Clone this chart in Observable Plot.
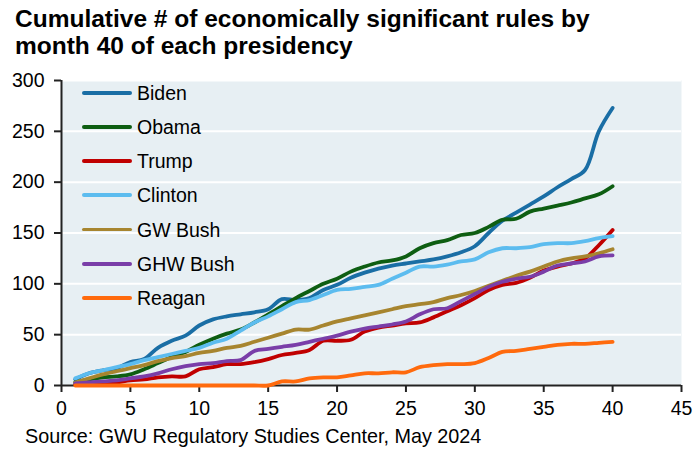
<!DOCTYPE html>
<html>
<head>
<meta charset="utf-8">
<script src="https://cdn.jsdelivr.net/npm/d3@7"></script>
<script src="https://cdn.jsdelivr.net/npm/@observablehq/plot@0.6"></script>
<style>
  html, body { margin: 0; padding: 0; background: #fff; }
  #chart { position: relative; width: 694px; height: 450px; font-family: Arial, "Liberation Sans", sans-serif; color: #000; overflow: hidden; }
  #title { position: absolute; left: 15px; top: 5px; font-size: 24.5px; font-weight: bold; line-height: 27px; white-space: nowrap; }
  #plot { position: absolute; left: 0; top: 70px; }
  #caption { position: absolute; left: 25px; top: 425px; font-size: 19.8px; line-height: 22px; white-space: nowrap; }
  #legend { position: absolute; left: 82px; top: 80px; }
  .item { position: absolute; left: 0; height: 24px; width: 200px; }
  .swatch { position: absolute; left: 0; width: 50px; height: 3.8px; border-radius: 2px; }
  .label { position: absolute; left: 55px; font-size: 19.5px; line-height: 24px; white-space: nowrap; }
</style>
</head>
<body>
<div id="chart">
  <div id="title">Cumulative # of economically significant rules by<br>month 40 of each presidency</div>
  <div id="plot"></div>
  <div id="legend"></div>
  <div id="caption">Source: GWU Regulatory Studies Center, May 2024</div>
</div>
<script>
// Months since inauguration (1..40)
const months = d3.range(1, 41);

// Cumulative economically significant rules, by month
const biden   = [6, 12, 15, 17, 23, 26, 37, 44, 49, 59, 65, 68, 70, 72, 75, 85, 84, 86, 94, 99, 106, 111, 115, 118, 120, 122, 124, 127, 131, 137, 150, 162, 170, 178, 186, 195, 203, 212, 250, 273];
const obama   = [3, 6, 8, 9, 11, 16, 22, 28, 33, 40, 46, 51, 55, 62, 70, 78, 86, 93, 100, 105, 112, 117, 121, 123, 127, 135, 140, 143, 148, 150, 156, 163, 164, 171, 174, 177, 180, 184, 188, 196];
const trump   = [1, 2, 2, 3, 5, 6, 8, 9, 9, 16, 18, 21, 21, 23, 26, 30, 32, 35, 44, 44, 45, 53, 57, 59, 61, 62, 67, 73, 79, 86, 94, 99, 101, 106, 113, 117, 120, 125, 138, 153];
const clinton = [7, 12, 15, 18, 21, 25, 28, 31, 34, 37, 42, 46, 54, 62, 68, 75, 82, 84, 89, 94, 95, 97, 99, 105, 111, 117, 117, 119, 122, 124, 131, 135, 135, 136, 139, 140, 140, 142, 145, 147];
const gwBush  = [3, 7, 11, 14, 17, 20, 24, 27, 29, 32, 34, 37, 39, 43, 47, 51, 55, 55, 59, 63, 66, 69, 72, 75, 78, 80, 82, 86, 89, 93, 98, 103, 108, 112, 117, 122, 125, 127, 130, 134];
const ghwBush = [2, 3, 4, 5, 7, 9, 12, 16, 19, 21, 22, 24, 25, 34, 36, 38, 40, 43, 46, 49, 53, 56, 58, 60, 63, 70, 75, 76, 83, 90, 97, 102, 105, 107, 112, 118, 120, 122, 127, 128];
const reagan  = [0, 0, 0, 0, 0, 0, 0, 0, 0, 0, 0, 0, 0, 0, 0, 4, 4, 7, 8, 8, 10, 12, 12, 13, 13, 18, 20, 21, 21, 22, 27, 33, 34, 36, 38, 40, 41, 41, 42, 43];

const names  = ["Biden", "Obama", "Trump", "Clinton", "GW Bush", "GHW Bush", "Reagan"];
const values = [biden, obama, trump, clinton, gwBush, ghwBush, reagan];
const colors = ["#1a6ea5", "#0e5e12", "#c00000", "#5cbcef", "#a7852f", "#7a3ea8", "#ff6a0d"];

const xTicks = d3.range(0, 46, 5);
const yTicks = d3.range(0, 301, 50);

const rows = names.flatMap((name, i) => months.map((m, j) => ({president: name, month: m, rules: values[i][j]})));

const chart = Plot.plot({
  width: 694,
  height: 352,
  marginTop: 10,
  marginLeft: 61,
  marginRight: 13,
  marginBottom: 37,
  style: {fontFamily: 'Arial, "Liberation Sans", sans-serif', fontSize: "19.5px", color: "#000", background: "transparent"},
  x: {domain: [0, 45], ticks: xTicks, label: null},
  y: {domain: [0, 300], ticks: yTicks, label: null},
  color: {domain: names, range: colors},
  marks: [
    Plot.frame({fill: "#e7eff3", stroke: null}),
    Plot.gridY(yTicks, {stroke: "#fff", strokeOpacity: 1, strokeWidth: 2}),
    Plot.axisX({ticks: xTicks, tickSize: 7, tickPadding: 9, stroke: "#222", strokeWidth: 2, label: null}),
    Plot.axisY({ticks: yTicks, tickSize: 7, tickPadding: 10, stroke: "#222", strokeWidth: 2, label: null}),
    Plot.ruleY([0], {stroke: "#222", strokeWidth: 2}),
    Plot.ruleX([0], {stroke: "#222", strokeWidth: 2}),
    Plot.line(rows, {x: "month", y: "rules", z: "president", stroke: "president", strokeWidth: 3.8, curve: "catmull-rom"})
  ]
});
document.getElementById("plot").appendChild(chart);

// Legend in the upper-left corner of the plot area
const legend = document.getElementById("legend");
names.forEach((name, i) => {
  const item = document.createElement("div");
  item.className = "item";
  item.style.top = (0.7 + 34.2 * i) + "px";
  const sw = document.createElement("div");
  sw.className = "swatch";
  sw.style.background = colors[i];
  sw.style.top = "10.1px";
  const lab = document.createElement("div");
  lab.className = "label";
  lab.textContent = name;
  item.appendChild(sw);
  item.appendChild(lab);
  legend.appendChild(item);
});
</script>
</body>
</html>
